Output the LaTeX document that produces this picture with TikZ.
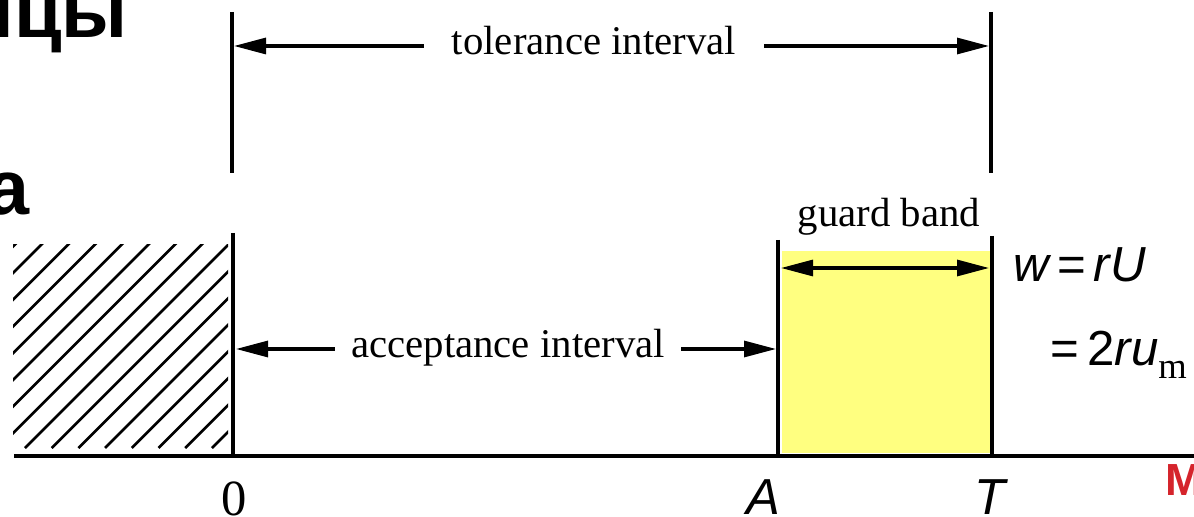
\documentclass[tikz,border=0pt]{standalone}
\usepackage{fontspec}
\setmainfont{Liberation Serif}
\newfontfamily\labelfont{Liberation Sans}
\usepackage{xcolor}
\usetikzlibrary{arrows.meta,positioning}
\definecolor{guardyellow}{RGB}{255,255,128}
\definecolor{slidered}{RGB}{213,36,44}

\begin{document}
\begin{tikzpicture}[
    x=0.025cm, y=-0.025cm,
    txt/.style={font=\fontsize{29}{33}\selectfont, inner ysep=0pt},
    sym/.style={font=\labelfont\itshape\fontsize{36}{40}\selectfont, inner sep=0pt},
    eqn/.style={font=\labelfont\itshape\fontsize{35}{38}\selectfont, inner sep=0pt, anchor=base west},
    frag/.style={font=\labelfont\bfseries\fontsize{55}{60}\selectfont, inner sep=0pt, anchor=base east},
    limit/.style={line width=3.5pt},
    thinlimit/.style={line width=2.2pt},
    arr/.style={-{Triangle[length=8mm, width=4mm]}, line width=2.2pt},
    darr/.style={{Triangle[length=8mm, width=4mm]}-{Triangle[length=8mm, width=4mm]}, line width=2.2pt}
]
\useasboundingbox (0,0) rectangle (1194,517);

% guard band area
\fill[guardyellow] (782,251) rectangle (990,453);

% hatched region below zero
\begin{scope}
    \clip (13,245) rectangle (228,448);
    \foreach \k in {-8,...,8}
        \draw[line width=1.9pt] ({25+26.7*\k},448) -- ++(220,-220);
\end{scope}

% axis and limits
\coordinate (axL) at (14,456);
\coordinate (axR) at (1194,456);
\coordinate (zeroTop) at (233,233);
\coordinate (aTop) at (778,240);
\coordinate (tTop) at (992,236);
\draw[limit] (axL) -- (axR);
\draw[limit] (zeroTop) -- (zeroTop |- axL);
\draw[limit] (aTop) -- (aTop |- axL);
\draw[limit] (tTop) -- (tTop |- axL);

% tolerance interval
\coordinate (tolTopL) at (232,12);
\coordinate (tolTopR) at (991,12);
\draw[thinlimit] (tolTopL) -- ++(0,161);
\draw[thinlimit] (tolTopR) -- ++(0,161);
\node[txt, inner xsep=0.7cm] (tol) at (594,40.5) {tolerance interval};
\coordinate (tolL) at (234,46);
\coordinate (tolR) at (989,46);
\draw[arr] (tol.west |- tolL) -- (tolL);
\draw[arr] (tol.east |- tolR) -- (tolR);

% acceptance interval
\node[txt, inner xsep=0.4cm, anchor=base] (acc) at (508,357) {acceptance interval};
\coordinate (accL) at (236,349);
\coordinate (accR) at (776,349);
\draw[arr] (acc.west |- accL) -- (accL);
\draw[arr] (acc.east |- accR) -- (accR);

% guard band
\node[txt, anchor=base] (guard) at (889,227) {guard band};
\coordinate (gbL) at (781,268);
\coordinate (gbR) at (989,268);
\draw[darr] (gbL) -- (gbR);

\node[eqn] (wEq) at (1013,282) {w{\upshape\,=\,}rU};
\node[eqn] (uEq) at (1050,365) {{\upshape=\,2}ru\raisebox{-0.33cm}{\rmfamily\upshape\fontsize{26}{30}\selectfont m}};

% axis labels
\node[txt, anchor=base, font=\fontsize{36}{40}\selectfont, inner sep=0pt] (zeroLbl) at (234,515) {0};
\node[sym, anchor=base] (aLbl) at (763,514) {A};
\node[sym, anchor=base] (tLbl) at (990,514) {T};

% cut-off slide text
\node[frag] (titleFrag) at (128,38) {ицы};
\node[frag] (aFrag) at (30,215) {а};
\node[font=\labelfont\bfseries\fontsize{32}{36}\selectfont, text=slidered, inner sep=0pt, anchor=base west] (redFrag) at (1165,495) {М};
\end{tikzpicture}
\end{document}
